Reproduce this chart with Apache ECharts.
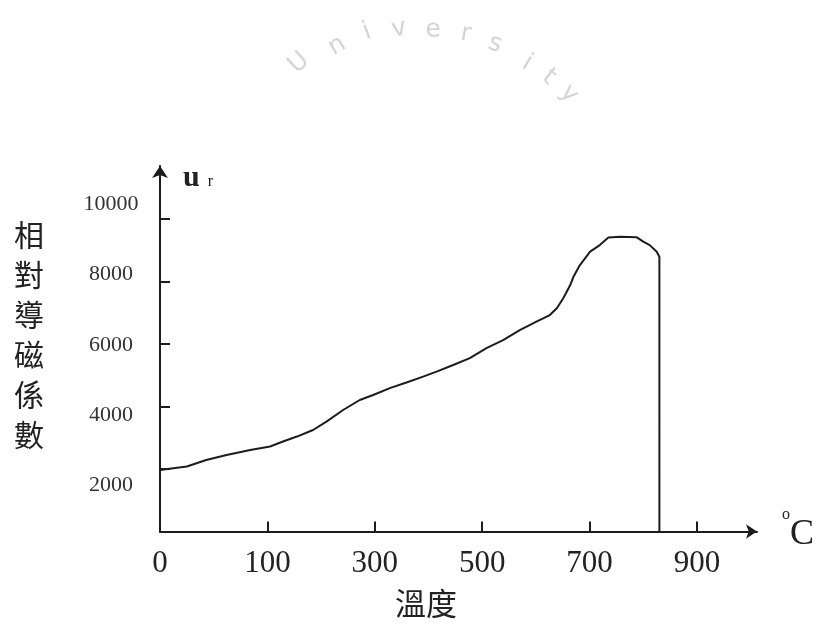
<!DOCTYPE html>
<html>
<head>
<meta charset="utf-8">
<script src="https://cdn.jsdelivr.net/npm/echarts@6/dist/echarts.min.js"></script>
<style>
  html, body { margin: 0; padding: 0; background: #ffffff; }
  #chart { width: 816px; height: 624px; }
</style>
</head>
<body>
<div id="chart"></div>
<script>
// ---- data ----
const xTickLabels = [0, 100, 300, 500, 700, 900];          // °C, evenly spaced on the drawing
const yTickValues = [2000, 4000, 6000, 8000, 10000];       // relative permeability ticks
const temperature = [0, 25, 43, 62, 84, 105, 129, 155, 185, 210, 241, 272, 297, 328, 359, 390,
  415, 446, 477, 508, 539, 570, 601, 626, 639, 651, 664, 670, 682, 701, 719, 735, 757, 788,
  800, 812, 825, 830, 830];
const permeability = [1970, 2080, 2290, 2450, 2610, 2720, 2880, 3040, 3250, 3520, 3890, 4210,
  4370, 4590, 4770, 4960, 5120, 5330, 5550, 5870, 6130, 6450, 6720, 6930, 7150, 7470, 7890,
  8160, 8530, 8960, 9170, 9410, 9440, 9420, 9280, 9170, 8960, 8800, 0];
const watermarkLetters = ['U', 'n', 'i', 'v', 'e', 'r', 's', 'i', 't', 'y'];

// The drawing spaces its temperature labels evenly, so temperatures map piecewise onto tick slots.
function tempToSlot(t) {
  for (let i = 0; i < xTickLabels.length - 1; i++) {
    const a = xTickLabels[i], b = xTickLabels[i + 1];
    if (t <= b || i === xTickLabels.length - 2) return i + (t - a) / (b - a);
  }
  return 0;
}

const ink = '#1c1c1c';
const serif = '"Liberation Serif", "DejaVu Serif", serif';
const cjk = '"Noto Sans CJK TC", "Noto Sans CJK SC", sans-serif';

// faint watermark letters on an arc
const wmPos = [[299, 63], [337, 46], [367, 32], [399, 29], [433, 30], [466, 34], [495, 44], [527, 63], [549, 77], [569, 94]];
const wmCenter = [435, 215];
const watermark = watermarkLetters.map((ch, i) => {
  const dx = wmPos[i][0] - wmCenter[0], dy = wmPos[i][1] - wmCenter[1];
  return {
    type: 'text', silent: true, z: -10,
    x: wmPos[i][0], y: wmPos[i][1],
    rotation: -Math.atan2(dx, -dy),
    style: { text: ch, fontSize: 25, fill: '#d4d4d4', fontFamily: '"DejaVu Sans", sans-serif', align: 'center', verticalAlign: 'middle' }
  };
});

const chart = echarts.init(document.getElementById('chart'), null, { renderer: 'canvas' });
chart.setOption({
  animation: false,
  backgroundColor: '#ffffff',
  graphic: { elements: watermark },
  grid: { left: 160, top: 166, right: 59, bottom: 92.5, containLabel: false, outerBoundsMode: 'none' },
  xAxis: [
    {
      type: 'value', min: 0, max: 5.559,
      axisLine: { show: true, onZero: false, symbol: ['none', 'arrow'], symbolSize: [11, 11], lineStyle: { color: ink, width: 2 } },
      axisTick: { show: true, inside: true, length: 10, customValues: [1, 2, 3, 4, 5], lineStyle: { color: ink, width: 2 } },
      axisLabel: { customValues: [0, 1, 2, 3, 4, 5], formatter: v => String(xTickLabels[Math.round(v)]), fontFamily: serif, fontSize: 31, color: '#222', margin: 17 },
      splitLine: { show: false },
      name: '{o|o}{c|C}', nameLocation: 'end', nameGap: 25, nameMoveOverlap: false,
      nameTextStyle: {
        align: 'left', verticalAlign: 'middle', padding: [6, 0, 0, 0],
        rich: {
          o: { fontFamily: serif, fontSize: 16, color: '#222', verticalAlign: 'top', lineHeight: 12 },
          c: { fontFamily: serif, fontSize: 36, color: '#222', lineHeight: 56 }
        }
      }
    },
    {
      type: 'value', min: 0, max: 1, position: 'bottom',
      axisLine: { show: false }, axisTick: { show: false }, axisLabel: { show: false }, splitLine: { show: false },
      name: '溫度', nameLocation: 'middle', nameGap: 72, nameMoveOverlap: false,
      nameTextStyle: { fontFamily: cjk, fontSize: 31, color: '#222', align: 'center', verticalAlign: 'middle', padding: [0, 65, 0, 0] }
    }
  ],
  yAxis: [
    {
      type: 'value', min: 0, max: 11703,
      axisLine: { show: true, onZero: false, symbol: ['none', 'arrow'], symbolSize: [12, 12], lineStyle: { color: ink, width: 2 } },
      axisTick: { show: true, inside: true, length: 10, customValues: yTickValues, lineStyle: { color: ink, width: 2 } },
      axisLabel: { show: false },
      splitLine: { show: false },
      name: '{u|u}{r|r}', nameLocation: 'end', nameGap: -12, nameMoveOverlap: false,
      nameTextStyle: {
        align: 'left', verticalAlign: 'middle', padding: [0, 0, 0, 23],
        rich: {
          u: { fontFamily: serif, fontSize: 30, fontWeight: 'bold', color: '#222' },
          r: { fontFamily: serif, fontSize: 16, color: '#222', padding: [8, 0, 0, 8] }
        }
      }
    },
    {
      type: 'value', min: 674, max: 11098, position: 'left',
      axisLine: { show: false }, axisTick: { show: false }, splitLine: { show: false },
      axisLabel: { customValues: yTickValues, formatter: v => String(v), fontFamily: serif, fontSize: 22, color: '#333', align: 'center', margin: 49 },
      name: '相\n對\n導\n磁\n係\n數\n{s|}', nameLocation: 'middle', nameRotate: 0, nameGap: 131, nameMoveOverlap: false,
      nameTextStyle: {
        fontFamily: cjk, fontSize: 30, lineHeight: 40, color: '#222', align: 'center', verticalAlign: 'middle',
        rich: { s: { fontSize: 10, lineHeight: 28 } }
      }
    }
  ],
  series: [
    {
      type: 'line',
      xAxisIndex: 0, yAxisIndex: 0,
      data: temperature.map((t, i) => [tempToSlot(t), permeability[i]]),
      showSymbol: false, symbol: 'none',
      lineStyle: { color: ink, width: 2 },
      silent: true
    }
  ]
});
</script>
</body>
</html>
